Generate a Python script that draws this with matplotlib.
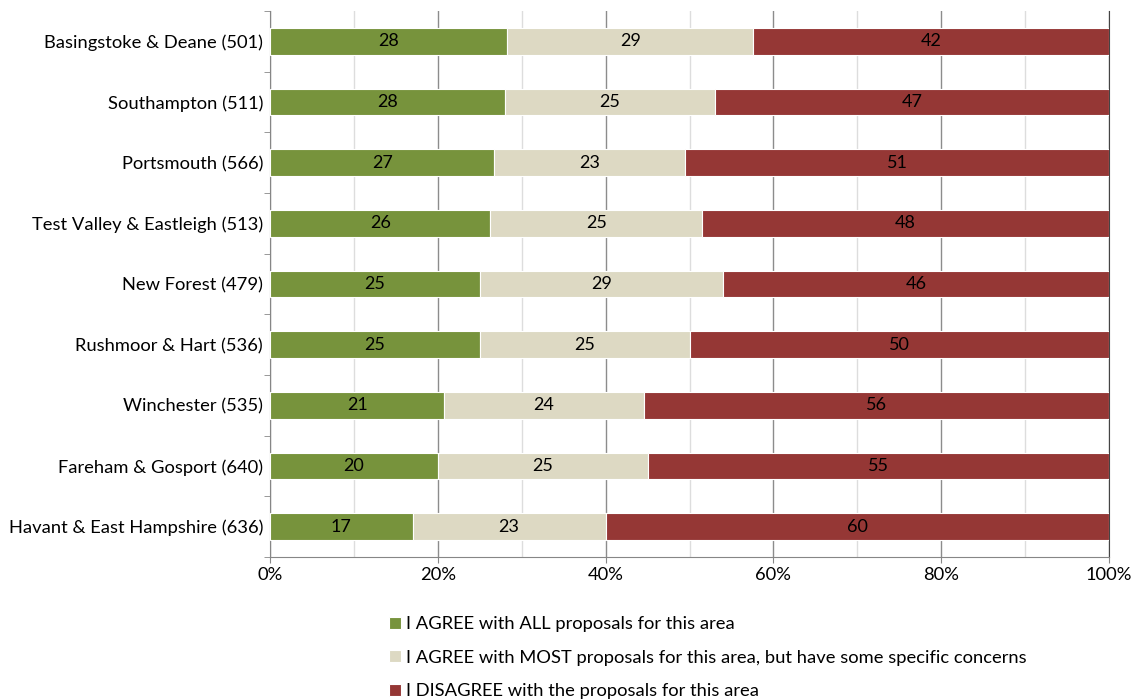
import matplotlib.pyplot as plt
import numpy as np
from matplotlib.ticker import MultipleLocator, PercentFormatter

plt.rcParams["font.family"] = ["Lato", "DejaVu Sans"]

areas = [
    "Basingstoke & Deane (501)",
    "Southampton (511)",
    "Portsmouth (566)",
    "Test Valley & Eastleigh (513)",
    "New Forest (479)",
    "Rushmoor & Hart (536)",
    "Winchester (535)",
    "Fareham & Gosport (640)",
    "Havant & East Hampshire (636)",
]
agree_all = [28, 28, 27, 26, 25, 25, 21, 20, 17]
agree_most = [29, 25, 23, 25, 29, 25, 24, 25, 23]
disagree = [42, 47, 51, 48, 46, 50, 56, 55, 60]

series_names = [
    "I AGREE with ALL proposals for this area",
    "I AGREE with MOST proposals for this area, but have some specific concerns",
    "I DISAGREE with the proposals for this area",
]
colors = ["#77933C", "#DDD9C3", "#953735"]

data = np.array([agree_all, agree_most, disagree], dtype=float)
shares = data / data.sum(axis=0) * 100

fig = plt.figure(figsize=(11.35, 7.0), dpi=100)
ax = fig.add_axes([270 / 1135, 1 - 557 / 700, 839 / 1135, 546 / 700])

y = np.arange(len(areas))
left = np.zeros(len(areas))
for vals, shr, name, col in zip(data, shares, series_names, colors):
    bars = ax.barh(y, shr, left=left, height=0.44, color=col, edgecolor="white",
                   linewidth=0.8, label=name, zorder=3)
    for b, v in zip(bars, vals):
        ax.text(b.get_x() + b.get_width() / 2, b.get_y() + b.get_height() / 2,
                f"{v:.0f}", ha="center", va="center", fontsize=13, color="black", zorder=4)
    left += shr

ax.set_xlim(0, 100)
ax.set_ylim(len(areas) - 0.5, -0.5)
ax.set_yticks(y)
ax.set_yticklabels(areas, fontsize=13.2)
ax.set_yticks(np.arange(len(areas) + 1) - 0.5, minor=True)
ax.tick_params(axis="y", which="major", length=0, pad=5)
ax.tick_params(axis="y", which="minor", length=4, color="#888888")

ax.xaxis.set_major_locator(MultipleLocator(20))
ax.xaxis.set_minor_locator(MultipleLocator(10))
ax.xaxis.set_major_formatter(PercentFormatter(decimals=0))
ax.tick_params(axis="x", which="major", length=4, labelsize=13.2, color="#888888")
ax.tick_params(axis="x", which="minor", length=0)
ax.grid(axis="x", which="major", color="#8c8c8c", linewidth=1.0, zorder=0)
ax.grid(axis="x", which="minor", color="#dddddd", linewidth=1.0, zorder=0)

for side in ["left", "bottom", "right"]:
    ax.spines[side].set_color("#868686")
ax.spines["right"].set_color("#444444")
ax.spines["top"].set_visible(False)

fig.legend(loc="upper left", bbox_to_anchor=(382 / 1135, 1 - 609 / 700), frameon=False,
           fontsize=13.2, handlelength=0.65, handleheight=0.65, handletextpad=0.25,
           labelspacing=0.95, borderaxespad=0)

fig.savefig("out.png", dpi=100)
